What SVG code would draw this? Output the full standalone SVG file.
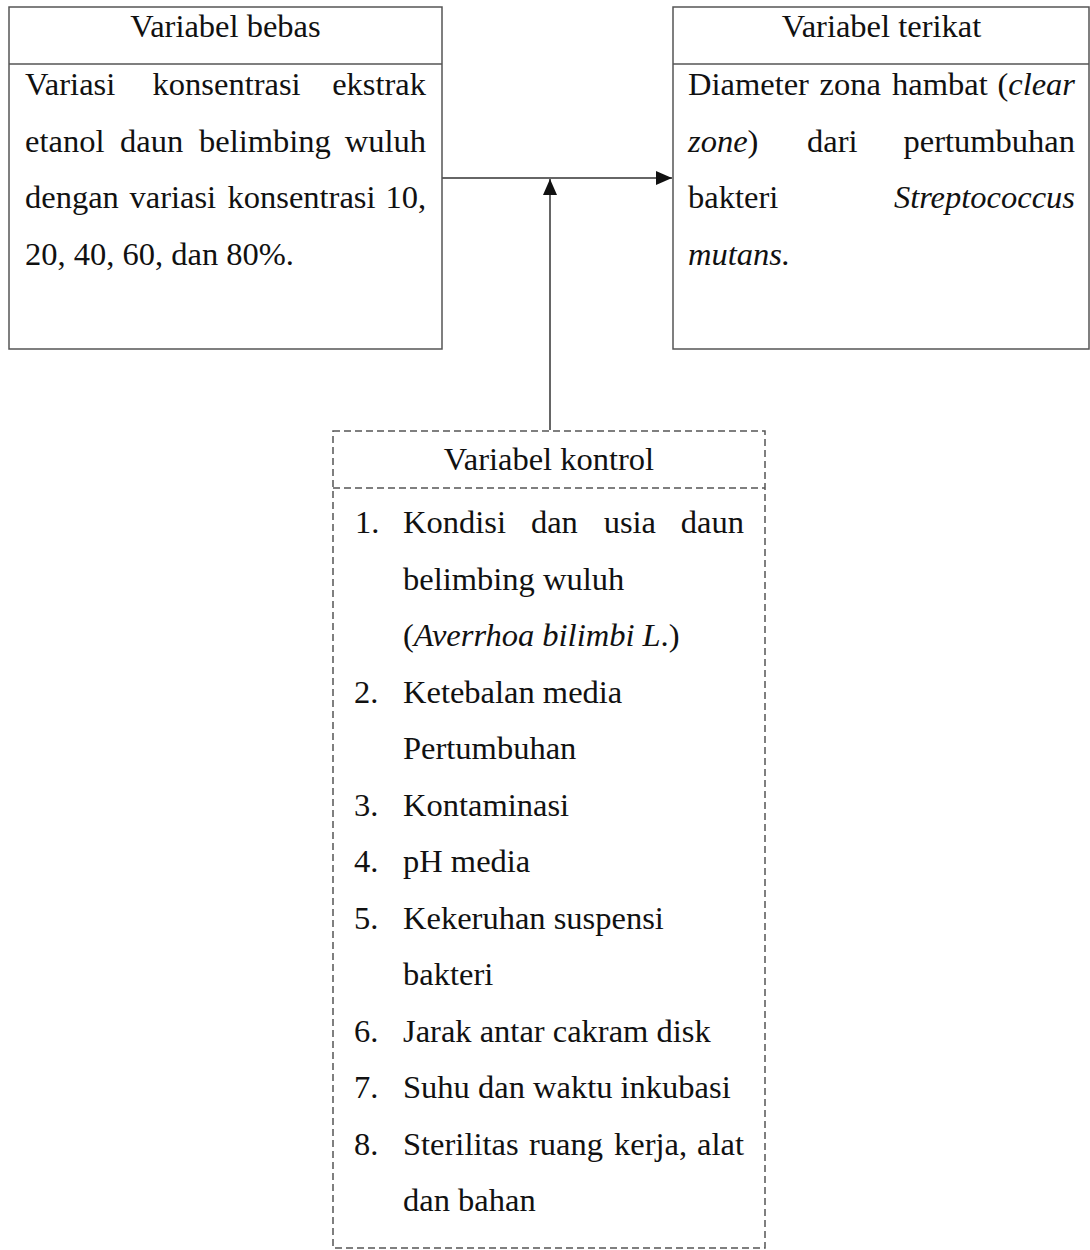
<svg xmlns="http://www.w3.org/2000/svg" width="1090" height="1250" viewBox="0 0 1090 1250">
<style>
  .box { fill: #ffffff; stroke: #555555; stroke-width: 1.5; }
  .dash { fill: #ffffff; stroke: #555555; stroke-width: 1.5; stroke-dasharray: 7 4; }
  .div { stroke: #555555; stroke-width: 1.5; fill: none; }
  .divd { stroke: #555555; stroke-width: 1.5; fill: none; stroke-dasharray: 7 4; }
  text { font-family: "Liberation Serif", "Times New Roman", serif; font-size: 32.5px; fill: #111111; }
  .c { text-anchor: middle; }
  .e { text-anchor: end; }
  .i { font-style: italic; }
  .conn { stroke: #333333; stroke-width: 1.5; fill: none; }
</style>
<defs>
  <marker id="arr" markerWidth="16" markerHeight="14" refX="16" refY="7" orient="auto" markerUnits="userSpaceOnUse">
    <path d="M0,0 L16,7 L0,14 Z" fill="#111111"/>
  </marker>
</defs>
<rect width="1090" height="1250" fill="#ffffff"/>

<g id="connectors">
  <line class="conn" x1="442" y1="178" x2="672" y2="178" marker-end="url(#arr)"/>
  <line class="conn" x1="550" y1="430" x2="550" y2="179" marker-end="url(#arr)"/>
</g>

<g id="variabel-bebas">
  <rect class="box" x="9" y="7" width="433" height="342"/>
  <line class="div" x1="9" y1="64" x2="442" y2="64"/>
  <text class="c" x="225.5" y="37">Variabel bebas</text>
  <text x="25" y="95">Variasi</text>
  <text x="152.6" y="95">konsentrasi</text>
  <text class="e" x="426" y="95">ekstrak</text>
  <text x="25" y="152">etanol</text>
  <text x="120" y="152">daun</text>
  <text x="199" y="152">belimbing</text>
  <text class="e" x="426" y="152">wuluh</text>
  <text x="25" y="208">dengan</text>
  <text x="129.5" y="208">variasi</text>
  <text x="227.5" y="208">konsentrasi</text>
  <text class="e" x="426" y="208">10,</text>
  <text x="25" y="265">20, 40, 60, dan 80%.</text>
</g>

<g id="variabel-terikat">
  <rect class="box" x="673" y="7" width="416" height="342"/>
  <line class="div" x1="673" y1="64" x2="1089" y2="64"/>
  <text class="c" x="881.5" y="37">Variabel terikat</text>
  <text x="688" y="95">Diameter</text>
  <text x="819.5" y="95">zona</text>
  <text x="892" y="95">hambat</text>
  <text class="e" x="1075" y="95">(<tspan class="i">clear</tspan></text>
  <text x="688" y="152"><tspan class="i">zone</tspan>)</text>
  <text x="807" y="152">dari</text>
  <text class="e" x="1075" y="152">pertumbuhan</text>
  <text x="688" y="208">bakteri</text>
  <text class="e i" x="1075" y="208">Streptococcus</text>
  <text class="i" x="688" y="265">mutans.</text>
</g>

<g id="variabel-kontrol">
  <rect class="dash" x="333" y="431" width="432" height="817"/>
  <line class="divd" x1="333" y1="488" x2="765" y2="488"/>
  <text class="c" x="549" y="470">Variabel kontrol</text>
  <text x="355" y="533">1.</text>
  <text x="403" y="533">Kondisi</text>
  <text x="530.9" y="533">dan</text>
  <text x="603.7" y="533">usia</text>
  <text class="e" x="744" y="533">daun</text>
  <text x="403" y="589.5">belimbing wuluh</text>
  <text x="403" y="646">(<tspan class="i">Averrhoa bilimbi L</tspan>.)</text>
  <text x="354" y="702.5">2.</text>
  <text x="403" y="702.5">Ketebalan media</text>
  <text x="403" y="759">Pertumbuhan</text>
  <text x="354" y="815.5">3.</text>
  <text x="403" y="815.5">Kontaminasi</text>
  <text x="354" y="872">4.</text>
  <text x="403" y="872">pH media</text>
  <text x="354" y="928.5">5.</text>
  <text x="403" y="928.5">Kekeruhan suspensi</text>
  <text x="403" y="985">bakteri</text>
  <text x="354" y="1041.5">6.</text>
  <text x="403" y="1041.5">Jarak antar cakram disk</text>
  <text x="354" y="1098">7.</text>
  <text x="403" y="1098">Suhu dan waktu inkubasi</text>
  <text x="354" y="1154.5">8.</text>
  <text x="403" y="1154.5">Sterilitas</text>
  <text x="529" y="1154.5">ruang</text>
  <text x="614" y="1154.5">kerja,</text>
  <text class="e" x="744" y="1154.5">alat</text>
  <text x="403" y="1211">dan bahan</text>
</g>
</svg>
